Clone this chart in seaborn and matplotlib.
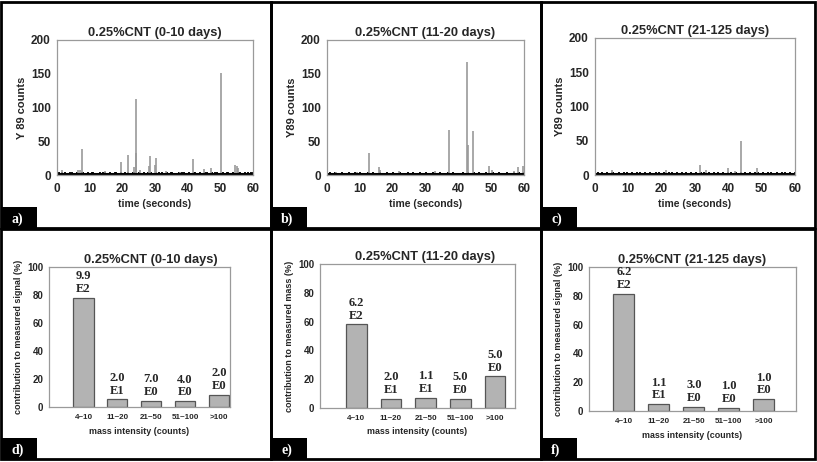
import numpy as np
import pandas as pd
import matplotlib
matplotlib.use("Agg")
import matplotlib.pyplot as plt
from matplotlib.patches import Rectangle
import seaborn as sns

# ---------------- data ----------------
titles = ["0.25%CNT (0-10 days)", "0.25%CNT (11-20 days)", "0.25%CNT (21-125 days)"]
top_ylabels = ["Y 89 counts", "Y89 counts", "Y89 counts"]
bottom_ylabels = ["contribution to measured signal (%)",
                  "contribution to measured mass (%)",
                  "contribution to measured signal (%)"]
panel_letters_top = ["a)", "b)", "c)"]
panel_letters_bottom = ["d)", "e)", "f)"]

a_spike_t = [1.5, 6.5, 7.0, 7.6, 14.6, 19.5, 21.8, 23.7, 24.1, 24.3, 25.3, 28.3, 28.5,
             29.9, 30.2, 33.5, 37.7, 41.6, 45.0, 47.2, 50.3, 54.6, 55.0, 55.4]
a_spike_c = [8, 7, 8, 38, 6, 20, 29, 12, 33, 113, 8, 14, 28,
             15, 25, 6, 5, 24, 9, 11, 151, 15, 13, 10]
b_spike_t = [2.8, 9.0, 12.7, 15.9, 16.2, 22.0, 33.0, 37.3, 42.5, 42.9, 44.6, 49.2,
             50.3, 57.1, 58.2, 59.8]
b_spike_c = [5, 5, 32, 12, 7, 6, 6, 66, 168, 45, 65, 13, 7, 6, 12, 14]
c_spike_t = [5.2, 21.3, 31.6, 33.3, 40.0, 42.0, 43.8, 48.5]
c_spike_c = [7, 7, 14, 8, 10, 6, 49, 10]

a_noise = [3, 4, 2, 5, 3, 4, 3, 2, 4, 5, 3, 3, 4, 2, 3, 5, 4, 3, 2, 4, 3, 4, 5, 3, 2, 3, 4, 3, 5, 4,
           2, 3, 4, 3, 3, 5, 4, 2, 3, 4, 3, 5, 2, 4, 3, 3, 4, 5, 3, 2, 4, 3, 3, 4, 2, 5, 3, 4, 3, 2,
           4, 3, 5, 3, 4, 2, 3, 4, 3, 5, 4, 3, 2, 3, 4, 3, 5, 4, 3, 2, 4, 3, 3, 5, 4, 2, 3, 4, 3, 3,
           5, 4, 2, 3, 4, 3, 4, 5, 3, 2, 3, 4, 3, 5, 4, 2, 3, 4, 3, 3, 4, 5, 3, 2, 4, 3, 4, 3, 5, 4]
b_noise = [2, 3, 4, 3, 2, 4, 3, 3, 2, 4, 3, 2, 3, 4, 2, 3, 3, 4, 2, 3, 4, 3, 2, 3, 3, 4, 2, 3, 4, 3,
           3, 2, 4, 3, 3, 2, 4, 3, 2, 3, 4, 3, 3, 2, 4, 3, 2, 3, 3, 4, 2, 3, 4, 2, 3, 3, 4, 3, 2, 3,
           4, 2, 3, 3, 4, 3, 2, 3, 4, 3, 2, 3, 3, 4, 2, 3, 4, 3, 2, 3, 3, 2, 4, 3, 3, 4, 2, 3, 3, 4,
           2, 3, 4, 3, 2, 3, 4, 3, 3, 2, 4, 3, 2, 3, 4, 3, 3, 2, 3, 4, 2, 3, 3, 4, 3, 2, 4, 3, 3, 4]
c_noise = [3, 3, 4, 3, 4, 3, 3, 4, 3, 3, 4, 4, 3, 3, 4, 3, 3, 4, 3, 4, 3, 3, 4, 3, 3, 4, 3, 4, 3, 3,
           4, 3, 3, 4, 3, 3, 4, 3, 4, 3, 3, 4, 3, 3, 4, 3, 4, 3, 3, 4, 3, 3, 4, 3, 4, 3, 3, 4, 3, 3,
           4, 3, 3, 4, 3, 4, 3, 3, 4, 3, 3, 4, 3, 4, 3, 3, 4, 3, 3, 4, 3, 4, 3, 3, 4, 3, 3, 4, 3, 4,
           3, 3, 4, 3, 3, 4, 3, 4, 3, 3, 4, 3, 3, 4, 3, 4, 3, 3, 4, 3, 3, 4, 3, 4, 3, 3, 4, 3, 3, 4]

time_ticks = [0, 10, 20, 30, 40, 50, 60]
count_ticks = [0, 50, 100, 150, 200]

categories = ["4~10", "11~20", "21~50", "51~100", ">100"]
d_values = [78, 5.5, 4.5, 4.3, 8.8]
e_values = [58, 6.5, 7.2, 6.5, 22]
f_values = [81.5, 4.8, 3.0, 2.3, 8.3]
d_labels = ["9.9\nE2", "2.0\nE1", "7.0\nE0", "4.0\nE0", "2.0\nE0"]
e_labels = ["6.2\nE2", "2.0\nE1", "1.1\nE1", "5.0\nE0", "5.0\nE0"]
f_labels = ["6.2\nE2", "1.1\nE1", "3.0\nE0", "1.0\nE0", "1.0\nE0"]
pct_ticks = [0, 20, 40, 60, 80, 100]

# ---------------- style ----------------
sns.set_style("white")
plt.rcParams['font.family'] = ['Liberation Sans', 'DejaVu Sans']
plt.rcParams['font.weight'] = 'bold'

W, H = 817, 462
fig = plt.figure(figsize=(W / 100, H / 100), dpi=100)


def px_axes(l, r, t, b):
    return fig.add_axes([l / W, 1 - b / H, (r - l) / W, (b - t) / H])


frame_color = "#9a9a9a"
spike_color = "#999999"
bar_color = "#b3b3b3"
serif = ['Liberation Serif', 'DejaVu Serif']

top_boxes = [(57, 253, 40, 175), (327, 524, 40, 175), (595, 795, 38, 175)]
bottom_boxes = [(49, 230, 267, 407), (320, 515, 264, 408), (589, 796, 267, 411)]
bottom_xlims = [(-1.02, 4.33), (-1.05, 4.58), (-1.0, 4.92)]
bottom_title_x = [0.56, 0.54, 0.5]

spikes_t = [a_spike_t, b_spike_t, c_spike_t]
spikes_c = [a_spike_c, b_spike_c, c_spike_c]
noises = [a_noise, b_noise, c_noise]

for i in range(3):
    ax = px_axes(*top_boxes[i])
    nz = noises[i]
    nt = np.linspace(0, 60, len(nz))
    ax.vlines(nt, 0, nz, color="black", lw=1.3)
    ax.vlines(spikes_t[i], 0, spikes_c[i], color=spike_color, lw=1.2)
    sns.lineplot(x=[0, 60], y=[0.8, 0.8], color="black", lw=2.2, ax=ax)
    ax.set_xlim(0, 60)
    ax.set_ylim(0, 200)
    ax.set_xticks(time_ticks)
    ax.set_yticks(count_ticks)
    ax.tick_params(axis='both', labelsize=8.5, length=2.5, width=0.8, color=frame_color, pad=2)
    for lab in ax.get_xticklabels() + ax.get_yticklabels():
        lab.set_fontweight('bold')
    ax.tick_params(axis='x', pad=3)
    for s in ax.spines.values():
        s.set_color(frame_color)
        s.set_linewidth(0.9)
    ax.set_xlabel("time (seconds)", fontsize=7.5, fontweight='bold', labelpad=3)
    ax.set_ylabel(top_ylabels[i], fontsize=8, fontweight='bold', labelpad=3)
    ax.set_title(titles[i], fontsize=9.3, fontweight='bold', pad=3)

bvals = [d_values, e_values, f_values]
blabs = [d_labels, e_labels, f_labels]
for i in range(3):
    ax = px_axes(*bottom_boxes[i])
    df = pd.DataFrame({"cat": categories, "val": bvals[i]})
    sns.barplot(data=df, x="cat", y="val", color=bar_color, saturation=1,
                edgecolor="#555555", linewidth=0.9, width=0.6, ax=ax)
    for j, (v, t) in enumerate(zip(bvals[i], blabs[i])):
        ax.text(j, v + 1.8, t, ha='center', va='bottom', fontsize=9, fontweight='bold',
                family=serif, linespacing=1.1)
    ax.set_xlim(*bottom_xlims[i])
    ax.set_ylim(0, 100)
    ax.set_yticks(pct_ticks)
    ax.tick_params(axis='y', labelsize=7, length=2, width=0.8, color=frame_color, pad=2)
    ax.tick_params(axis='x', labelsize=5.8, length=0, pad=5)
    for lab in ax.get_xticklabels() + ax.get_yticklabels():
        lab.set_fontweight('bold')
    for s in ax.spines.values():
        s.set_color(frame_color)
        s.set_linewidth(0.9)
    ax.set_xlabel("mass intensity (counts)", fontsize=6.4, fontweight='bold', labelpad=4)
    ax.set_ylabel(bottom_ylabels[i], fontsize=6.5, fontweight='bold', labelpad=3)
    ax.set_title(titles[i], fontsize=9.3, fontweight='bold', pad=3, x=bottom_title_x[i])

# ---------------- panel borders & letters ----------------
cols = [(1, 271), (271, 541), (541, 815)]
rows = [(2, 228), (229, 459)]
for r, (yt, yb) in enumerate(rows):
    for c, (xl, xr) in enumerate(cols):
        fig.add_artist(Rectangle((xl / W, 1 - yb / H), (xr - xl) / W, (yb - yt) / H,
                                 transform=fig.transFigure, fill=False,
                                 edgecolor="black", lw=2.0))
        bx0, bx1 = xl + 1, xl + 36
        fig.add_artist(Rectangle((bx0 / W, 1 - yb / H), (bx1 - bx0) / W, 21 / H,
                                 transform=fig.transFigure, facecolor="black",
                                 edgecolor="black", lw=0))
        letter = (panel_letters_top if r == 0 else panel_letters_bottom)[c]
        fig.text((bx0 + 9) / W, 1 - (yb - 9) / H, letter, color="white",
                 fontsize=10, fontweight='bold', family=serif, ha='left', va='center')

fig.savefig("out.png", dpi=100)
